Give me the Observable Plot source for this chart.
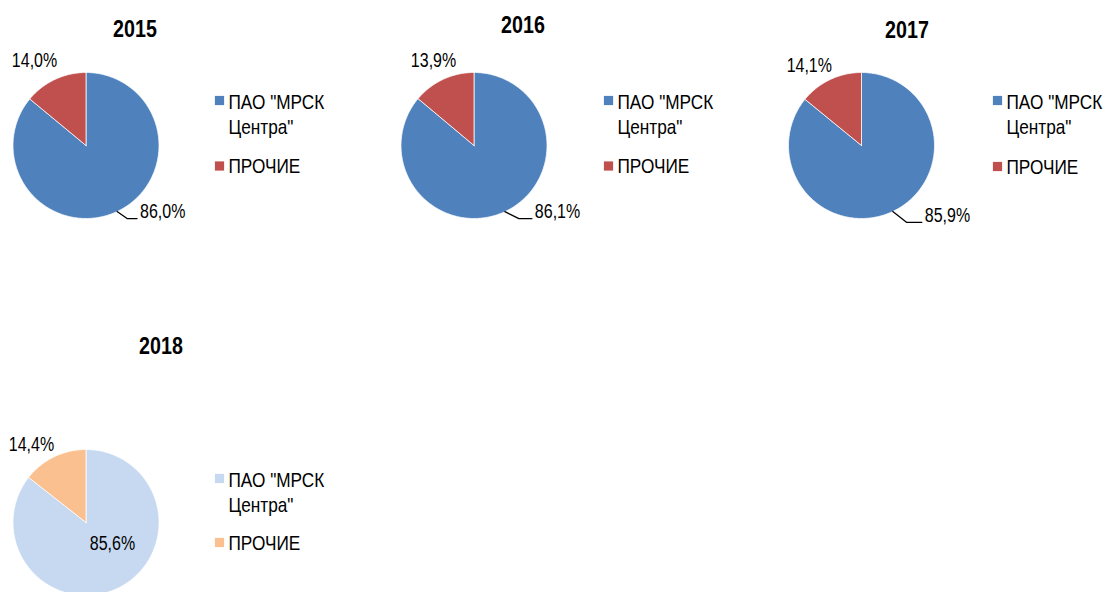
<!DOCTYPE html>
<html><head><meta charset="utf-8">
<script src="https://cdn.jsdelivr.net/npm/d3@7"></script>
<script src="https://cdn.jsdelivr.net/npm/@observablehq/plot@0.6"></script>
<style>
body{margin:0;background:#fff;}
#chart{width:1107px;height:592px;overflow:hidden;}
</style>
</head><body><div id="chart"></div>
<script>
// ---- data ----
const years = ["2015", "2016", "2017", "2018"];
const categories = ['ПАО "МРСК Центра"', "ПРОЧИЕ"];
const mrskShare = [86.0, 86.1, 85.9, 85.6];
const otherShare = [14.0, 13.9, 14.1, 14.4];

// ---- fonts: narrow look obtained by a horizontal squeeze of Liberation Sans ----
const fam = '"Liberation Sans", Arial, sans-serif';
const squeeze = 0.82;
const fs = {title: 24, label: 19.5, legend: 21};

// ---- styling / layout ----
const palettes = [
  ["#4F81BD", "#C0504D"],
  ["#4F81BD", "#C0504D"],
  ["#4F81BD", "#C0504D"],
  ["#C6D9F1", "#FAC090"]
];
const layout = [
  {cx: 85.5, cy: 145, r: 73, tx: 134.5, ty: 28.5, sqx: 219, lx: 228, l1: 100, l2: 164.5, lead: [10, 7, 10], inside: null, otherOff: [-20.4, -19]},
  {cx: 473.5, cy: 145, r: 73, tx: 522.5, ty: 25, sqx: 608, lx: 617, l1: 100, l2: 164.5, lead: [14, 7, 13], inside: null, otherOff: [-9.6, -19]},
  {cx: 861, cy: 145, r: 73, tx: 906.5, ty: 29.5, sqx: 997, lx: 1006, l1: 100, l2: 165, lead: [14, 11, 15], inside: null, otherOff: [-20.9, -14]},
  {cx: 85.5, cy: 522, r: 73, tx: 160.5, ty: 345.5, sqx: 219, lx: 228, l1: 478, l2: 541, lead: null, inside: [26.5, 21], otherOff: [-22.6, -11.8]}
];
const lineGap = 25.5;
const fmt = v => d3.format(".1f")(v).replace(".", ",") + "%";

// ---- derived geometry ----
const slices = [], leaders = [], labels = [], titles = [], legendSq = [], legendTx = [];
years.forEach((yr, i) => {
  const L = layout[i];
  const vals = [mrskShare[i], otherShare[i]];
  const total = d3.sum(vals);
  let a = 0;
  vals.forEach((v, j) => {
    const a0 = a, a1 = a + v / total * 2 * Math.PI; a = a1;
    const key = yr + "-" + j;
    const pts = [[L.cx, L.cy]];
    const n = Math.max(2, Math.ceil((a1 - a0) / (Math.PI / 180)));
    for (let k = 0; k <= n; k++) {
      const t = a0 + (a1 - a0) * k / n;
      pts.push([L.cx + L.r * Math.sin(t), L.cy - L.r * Math.cos(t)]);
    }
    pts.push([L.cx, L.cy]);
    pts.forEach(p => slices.push({key, x: p[0], y: p[1], fill: palettes[i][j]}));

    const mid = (a0 + a1) / 2;
    const px = L.cx + L.r * Math.sin(mid), py = L.cy - L.r * Math.cos(mid);
    if (j === 0) {
      if (L.lead) {
        const [ex, ey, len] = L.lead;
        const p2 = [px + ex, py + ey], p3 = [p2[0] + len, p2[1]];
        [[px, py], p2, p3].forEach(p => leaders.push({key, x: p[0], y: p[1]}));
        labels.push({x: p3[0] + 3, y: p3[1] - 7, text: fmt(v), anchor: "start"});
      } else {
        labels.push({x: L.cx + L.inside[0], y: L.cy + L.inside[1], text: fmt(v), anchor: "middle"});
      }
    } else {
      labels.push({x: px + L.otherOff[0], y: py + L.otherOff[1], text: fmt(v), anchor: "middle"});
    }
    // legend
    const ly = j === 0 ? L.l1 : L.l2;
    legendSq.push({x: L.sqx, y: ly + (j === 0 ? 0 : 1), fill: palettes[i][j]});
    const name = categories[j];
    const sp = name.lastIndexOf(" ");
    const wrapped = j === 0 ? name.slice(0, sp) + "\n" + name.slice(sp + 1) : name;
    legendTx.push({x: L.lx, y: j === 0 ? ly + lineGap / 2 : ly, text: wrapped});
  });
  titles.push({x: L.tx, y: L.ty, text: yr});
});

const chart = Plot.plot({
  width: 1107,
  height: 592,
  margin: 0,
  style: {fontFamily: fam},
  x: {domain: [0, 1107], range: [0, 1107], axis: null},
  y: {domain: [0, 592], range: [0, 592], axis: null},
  marks: [
    Plot.line(slices, {x: "x", y: "y", z: "key", fill: "fill", stroke: "#ffffff", strokeWidth: 0.75, curve: "linear"}),
    Plot.line(leaders, {x: "x", y: "y", z: "key", stroke: "#000", strokeWidth: 1.3}),
    Plot.text(labels.filter(d => d.anchor === "start"), {x: "x", y: "y", text: "text", textAnchor: "start", fontSize: fs.label, fontFamily: fam, fill: "#000"}),
    Plot.text(labels.filter(d => d.anchor === "middle"), {x: "x", y: "y", text: "text", textAnchor: "middle", fontSize: fs.label, fontFamily: fam, fill: "#000"}),
    Plot.text(titles, {x: "x", y: "y", text: "text", fontSize: fs.title, fontWeight: "bold", fontFamily: fam, fill: "#000"}),
    Plot.dot(legendSq, {x: "x", y: "y", symbol: "square", r: 5.2, fill: "fill", stroke: null}),
    Plot.text(legendTx, {x: "x", y: "y", text: "text", textAnchor: "start", fontSize: fs.legend, fontFamily: fam, lineHeight: lineGap / fs.legend, fill: "#000"})
  ]
});
// condensed look: squeeze each text horizontally around its own anchor
chart.querySelectorAll("text").forEach(t => {
  const tr = t.getAttribute("transform");
  if (tr && tr.includes("translate")) t.setAttribute("transform", tr + ` scale(${squeeze},1)`);
});
document.getElementById("chart").appendChild(chart);
</script>
</body></html>
